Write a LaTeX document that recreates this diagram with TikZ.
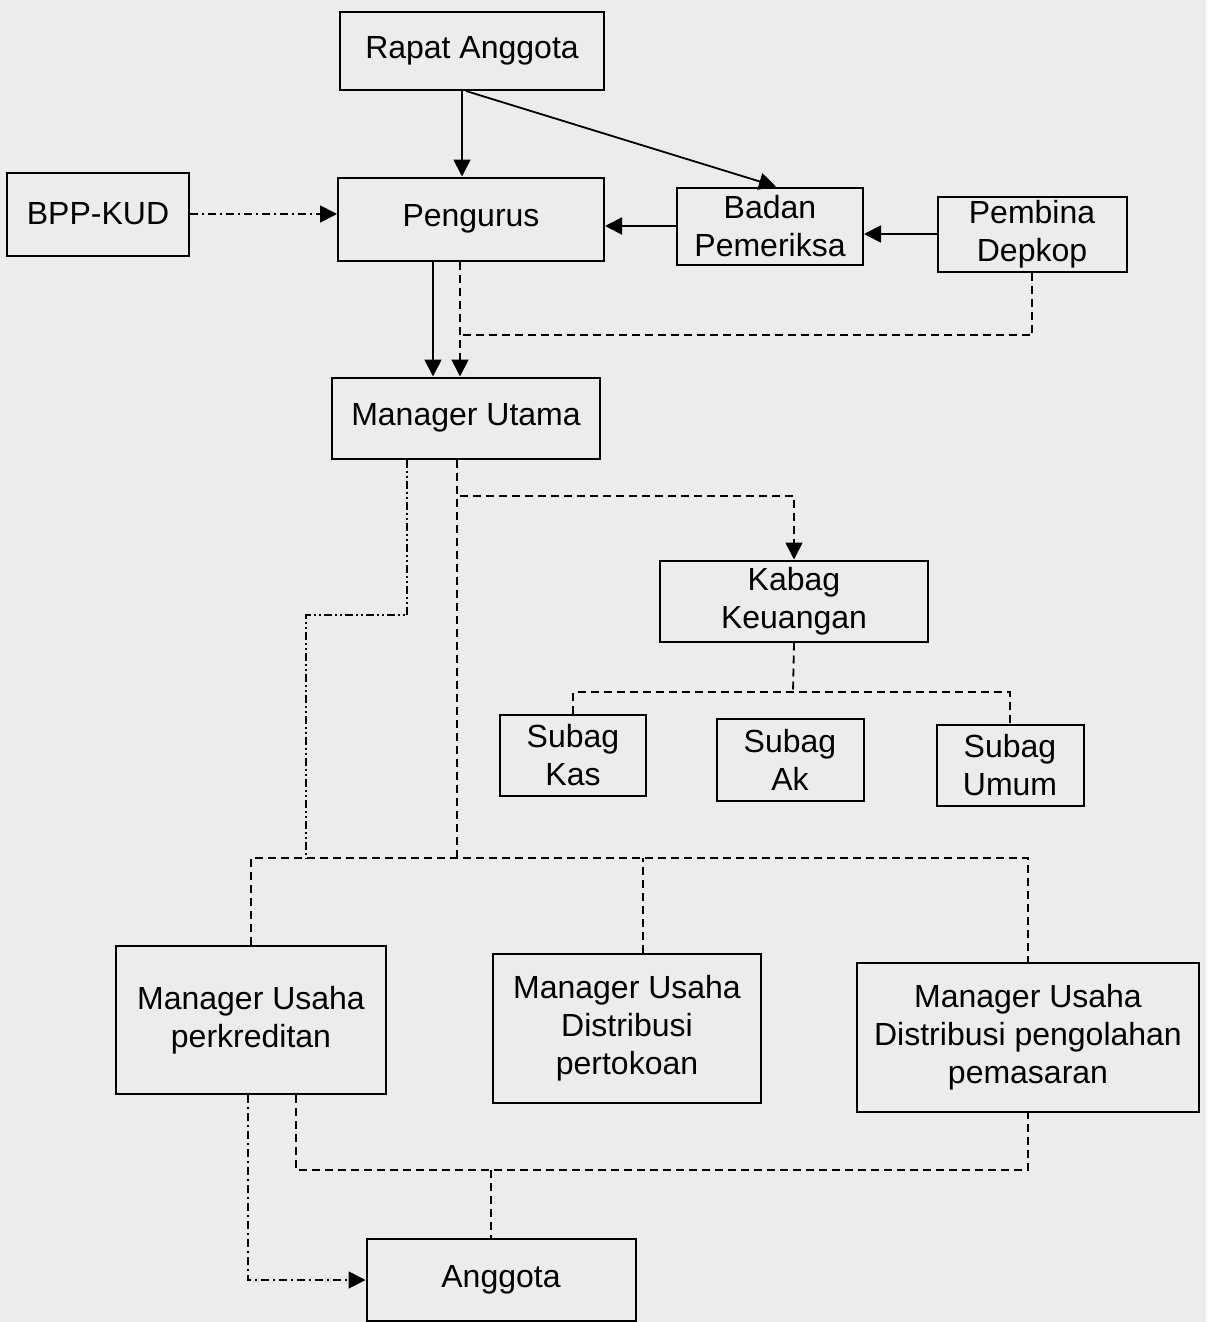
\documentclass[tikz,border=0pt]{standalone}
\usepackage{fontspec}
\setmainfont{Liberation Sans}
\usetikzlibrary{arrows.meta}
\definecolor{bgc}{RGB}{236,236,237}
\begin{document}
\begin{tikzpicture}[x=0.5pt,y=-0.5pt,
  box/.style={draw=black,line width=1pt,rectangle,inner sep=0pt,align=center,
    font=\fontsize{16}{19}\selectfont},
  ln/.style={line width=0.9pt},
  arr/.style={-{Triangle[length=8.5pt,width=8.5pt]}},
  dsh/.style={ln,dash pattern=on 4pt off 2.5pt},
  dd/.style={ln,dash pattern=on 4pt off 2pt on 1pt off 2pt},
  ddd/.style={ln,dash pattern=on 4pt off 1.5pt on 1pt off 1.5pt on 1pt off 1.5pt}]
\fill[bgc] (0,0) rectangle (1206,1322);
\useasboundingbox (0,0) rectangle (1206,1322);

\node[box,minimum width=132pt,minimum height=39pt] (ra) at (472,51) {Rapat Anggota};
\node[box,minimum width=91pt,minimum height=41.5pt] (bpp) at (98,214) {BPP-KUD};
\node[box,minimum width=133pt,minimum height=41.5pt] (pg) at (471,219) {Pengurus};
\node[box,minimum width=93pt,minimum height=38.5pt] (bp) at (770,226) {Badan\\Pemeriksa};
\node[box,minimum width=94.5pt,minimum height=37.5pt] (pd) at (1032,234) {Pembina\\Depkop};
\node[box,minimum width=134pt,minimum height=40.5pt] (mu) at (466,418) {Manager Utama};
\node[box,minimum width=134pt,minimum height=40.5pt] (kb) at (794,601) {Kabag\\Keuangan};
\node[box,minimum width=73pt,minimum height=40.5pt] (sk) at (573,755) {Subag\\Kas};
\node[box,minimum width=73.5pt,minimum height=41pt] (sa) at (790,760) {Subag\\Ak};
\node[box,minimum width=73.5pt,minimum height=40.5pt] (su) at (1010,765) {Subag\\Umum};
\node[box,minimum width=135pt,minimum height=74pt] (mk) at (251,1020) {Manager Usaha\\perkreditan};
\node[box,minimum width=134pt,minimum height=74.5pt] (md) at (627,1028) {Manager Usaha\\Distribusi\\pertokoan};
\node[box,minimum width=171pt,minimum height=74.5pt] (mp) at (1028,1037) {Manager Usaha\\Distribusi pengolahan\\pemasaran};
\node[box,minimum width=134.5pt,minimum height=41pt] (an) at (501,1280) {Anggota};

% top
\coordinate (r1) at ([xshift=-5pt]ra.south);
\draw[ln,arr] (r1) -- (r1 |- pg.north);
\draw[ln,arr] ([xshift=-3pt]ra.south) -- ([xshift=3pt]bp.north);
\draw[dd,arr] (bpp.east) -- (bpp.east -| pg.west);
\draw[ln,arr] (bp.west) -- (bp.west -| pg.east);
\draw[ln,arr] (pd.west) -- (pd.west -| bp.east);

% Pengurus -> Manager Utama
\coordinate (p1) at ([xshift=-19pt]pg.south);
\coordinate (p2) at ([xshift=-5.5pt]pg.south);
\draw[ln,arr] (p1) -- (p1 |- mu.north);
\draw[dsh,arr] (p2) -- (p2 |- mu.north);
\coordinate (jp) at (460,335);
\draw[dsh] (pd.south) |- (jp);

% Manager Utama -> Kabag
\coordinate (m2) at ([xshift=-4.5pt]mu.south);
\coordinate (jk) at (794,496);
\draw[dsh,arr] (m2) |- (jk) -- (kb.north);

% Kabag -> Subag
\coordinate (js) at (793,692);
\draw[dsh] (kb.south) -- (js);
\draw[dsh] (sk.north) |- (js) -| (su.north);

% Manager Utama -> bus
\coordinate (bus) at (643,858);
\draw[dsh] (m2) -- (m2 |- bus);
\coordinate (m1) at ([xshift=-29.5pt]mu.south);
\coordinate (jd) at (306,615);
\draw[ddd] (m1) |- (jd) -- (jd |- bus);
\coordinate (d1) at ([xshift=8pt]md.north);
\draw[dsh] (mk.north) |- (bus) -| (mp.north);
\draw[dsh] (d1) -- (d1 |- bus);

% bottom
\coordinate (b1) at ([xshift=22.5pt]mk.south);
\coordinate (jb) at (491,1170);
\draw[dsh] (b1) |- (jb) -| (mp.south);
\draw[dsh] (jb) -- (jb |- an.north);
\coordinate (b2) at ([xshift=-1.5pt]mk.south);
\draw[dd,arr] (b2) |- (an.west);
\end{tikzpicture}
\end{document}
